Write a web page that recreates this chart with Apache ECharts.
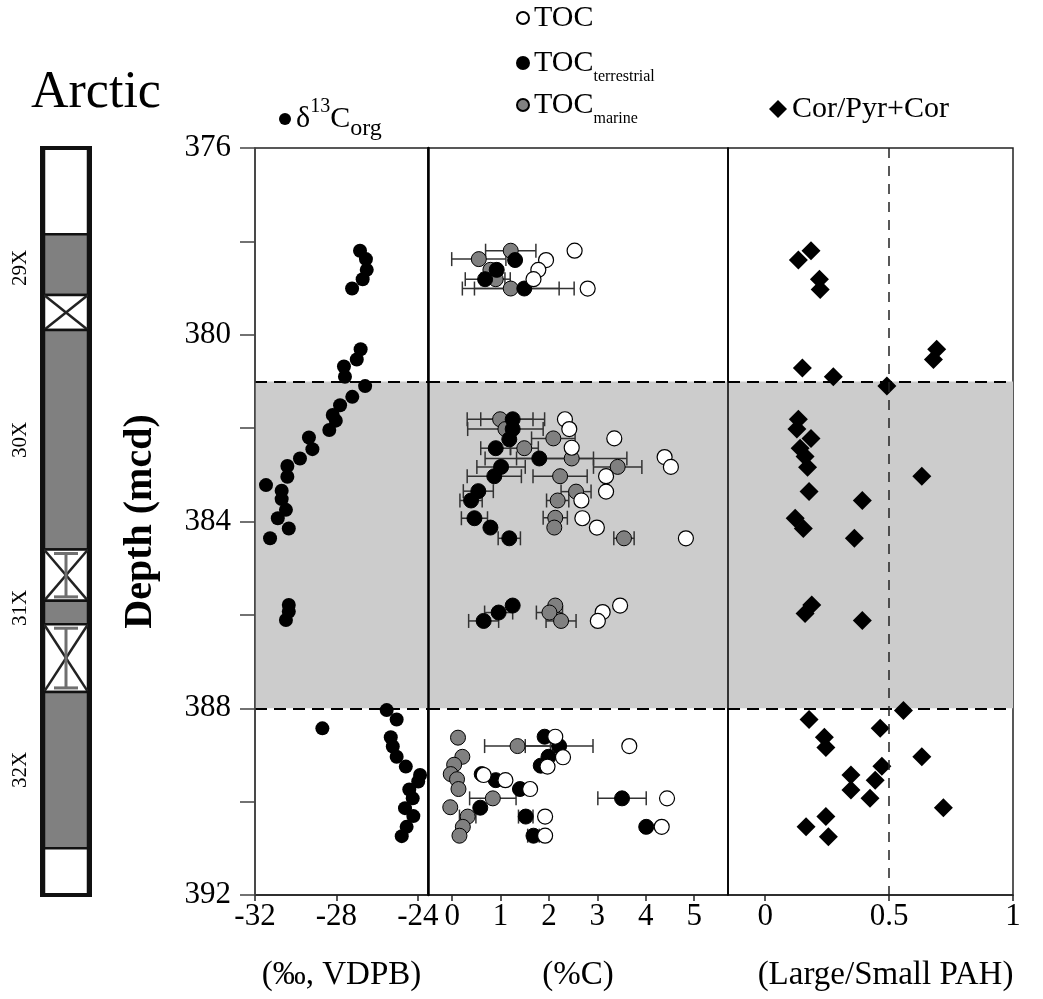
<!DOCTYPE html>
<html><head><meta charset="utf-8">
<script src="https://cdn.jsdelivr.net/npm/echarts@6/dist/echarts.min.js"></script>
<style>html,body{margin:0;padding:0;background:#fff}#c{width:1043px;height:999px}</style>
</head><body><div id="c"></div>
<script>
const FONT = '"Liberation Serif","Times New Roman",serif';

// ---- axes / ticks ----
const depthTicks = [376, 378, 380, 382, 384, 386, 388, 390, 392];
const depthLabels = [376, 380, 384, 388, 392];
const d13cTicks = [-32, -28, -24];
const tocTicks = [0, 1, 2, 3, 4, 5];
const ratioTicks = [0, 0.5, 1];
const shadedInterval = [381, 388];
const ratioThreshold = 0.5;

// ---- δ13Corg (‰ VPDB) ----
const d13cValue = [-26.84,-26.55,-26.51,-26.71,-27.23,-26.81,-27.00,-27.63,-27.58,-26.59,-27.22,-27.82,-28.18,-28.03,-28.35,-29.35,-29.18,-29.79,-30.41,-30.41,-31.46,-30.69,-30.69,-30.48,-30.88,-30.34,-31.26,-30.34,-30.34,-30.48,-25.53,-25.04,-28.69,-25.33,-25.23,-25.04,-24.59,-23.89,-23.98,-24.42,-24.25,-24.63,-24.22,-24.55,-24.79];
const d13cDepth = [378.20,378.38,378.61,378.81,379.01,380.31,380.53,380.68,380.90,381.10,381.33,381.51,381.72,381.84,382.04,382.20,382.45,382.65,382.81,383.04,383.22,383.34,383.52,383.75,383.93,384.15,384.36,385.79,385.93,386.11,388.04,388.24,388.43,388.62,388.82,389.04,389.25,389.43,389.57,389.74,389.93,390.14,390.31,390.54,390.74];

// ---- TOC (%C) ----
const tocValue = [2.53,1.94,1.78,1.68,2.80, 2.33,2.42,3.35,2.47,4.39,4.52,3.18,3.18,2.67,2.69,2.99,4.83, 3.47,3.11,3.01, 2.13,3.66,2.29,1.97,0.65,1.10,1.61,4.44,1.92,4.33,1.92];
const tocDepth = [378.20,378.40,378.61,378.81,379.01, 381.81,382.02,382.22,382.42,382.62,382.83,383.03,383.36,383.55,383.93,384.13,384.36, 385.80,385.94,386.13, 388.61,388.81,389.05,389.25,389.43,389.54,389.73,389.93,390.32,390.54,390.73];

// ---- TOC terrestrial ----
const terrValue = [1.30,0.92,0.68,1.49, 1.25,1.25,1.18,0.90,1.80,1.01,0.87,0.54,0.39,0.46,0.79,1.18, 1.25,0.96,0.65, 1.91,2.21,1.99,1.83,0.61,0.90,1.40,3.51,0.58,1.52,4.01,1.68];
const terrDepth = [378.40,378.61,378.81,379.01, 381.81,382.02,382.24,382.43,382.65,382.83,383.03,383.35,383.55,383.93,384.13,384.36, 385.80,385.95,386.13, 388.61,388.81,389.04,389.23,389.41,389.54,389.73,389.93,390.13,390.32,390.54,390.73];
const terrErr = [0,0,0.41,1.03, 0.66,0,0,0.31,1.12,0.50,0.56,0.31,0.23,0.27,0,0.23, 0,0.29,0.31, 0,0.70,0,0,0,0,0,0.50,0,0.15,0,0.12];

// ---- TOC marine ----
const marValue = [1.21,0.55,0.79,0.90,1.21, 0.99,1.10,2.09,1.49,2.47,3.42,2.23,2.56,2.18,2.13,2.11,3.55, 2.13,2.01,2.25, 0.12,1.35,0.21,0.04,-0.03,0.10,0.13,0.84,-0.04,0.32,0.22,0.15];
const marDepth = [378.20,378.38,378.61,378.81,379.01, 381.81,382.02,382.22,382.43,382.65,382.83,383.03,383.36,383.55,383.92,384.13,384.36, 385.80,385.95,386.13, 388.63,388.81,389.04,389.21,389.41,389.52,389.73,389.93,390.12,390.32,390.54,390.73];
const marErr = [0.52,0.56,0,0.3,1.0, 0.68,0.78,0.45,0.29,1.14,0.50,0.56,0.31,0.23,0.25,0,0.21, 0,0.27,0.31, 0,0.68,0,0,0,0,0,0.48,0,0.17,0,0];

// ---- Cor/(Pyr+Cor) ----
const ratioValue = [0.185,0.134,0.219,0.222,0.692,0.679,0.150,0.275,0.491, 0.134,0.128,0.185,0.141,0.161,0.171,0.632,0.177,0.392,0.121,0.154,0.360, 0.188,0.161,0.392, 0.558,0.177,0.464,0.239,0.245,0.632,0.471,0.346,0.444,0.346,0.423,0.719,0.245,0.165,0.255];
const ratioDepth = [378.20,378.40,378.81,379.03,380.31,380.53,380.71,380.90,381.10, 381.81,382.02,382.22,382.43,382.61,382.84,383.03,383.36,383.55,383.93,384.15,384.36, 385.79,385.97,386.12, 388.05,388.24,388.43,388.62,388.84,389.04,389.24,389.43,389.54,389.75,389.93,390.13,390.32,390.54,390.75];

// ---- core recovery column ----
const columnExtent = [376, 392];
const coreTop =    [376,   377.85, 379.15, 379.9, 384.6,  385.7,  386.2,  387.65, 391.0];
const coreBottom = [377.85,379.15, 379.9,  384.6, 385.7,  386.2,  387.65, 391.0,  392];
const coreKind =   ['empty','core','void','core','voidI','core','voidI','core','empty'];
const coreNames = ['29X', '30X', '31X', '32X'];
const coreNameDepth = [378.57, 382.25, 385.85, 389.32];

const zip = (a, b) => a.map((v, i) => [v, b[i]]);
const zip3 = (a, b, c) => a.map((v, i) => [v, b[i], c[i]]);

const chart = echarts.init(document.getElementById('c'), null, {renderer: 'canvas'});

const gridTop = 148, gridH = 747;
const grids = [
  {left: 255, width: 173, top: gridTop, height: gridH},
  {left: 428, width: 300, top: gridTop, height: gridH},
  {left: 728, width: 285, top: gridTop, height: gridH},
  {left: 44, width: 44, top: gridTop, height: gridH}
].map(g => Object.assign({show: true, borderColor: '#222', borderWidth: 1.5, backgroundColor: 'transparent'}, g));
grids[3].show = false;

const labelStyle = {fontFamily: FONT, fontSize: 31, color: '#000'};

function xAx(idx, min, max, ticks, name, pad) {
  return {
    gridIndex: idx, type: 'value', min, max, position: 'bottom',
    axisLine: {show: true, onZero: false, lineStyle: {color: '#222', width: 1.5}},
    axisTick: {show: true, inside: false, length: 6, customValues: ticks, lineStyle: {color: '#222', width: 1.5}},
    axisLabel: Object.assign({customValues: ticks, margin: 6, formatter: v => String(v)}, labelStyle),
    splitLine: {show: false},
    name, nameLocation: 'middle', nameGap: 64,
    nameTextStyle: Object.assign({padding: pad || 0}, labelStyle, {fontSize: 33})
  };
}

const yBase = {type: 'value', min: columnExtent[0], max: columnExtent[1], inverse: true, splitLine: {show: false}, z: 10};
const yAxes = [
  Object.assign({}, yBase, {
    gridIndex: 0,
    axisLine: {show: true, onZero: false, lineStyle: {color: '#444', width: 1.5}},
    axisTick: {show: true, inside: false, length: 15, customValues: depthTicks, lineStyle: {color: '#444', width: 1.5}},
    axisLabel: Object.assign({customValues: depthLabels, margin: 24}, labelStyle),
    name: 'Depth (mcd)', nameLocation: 'middle', nameGap: 94, nameRotate: 90,
    nameTextStyle: {fontFamily: FONT, fontSize: 40, color: '#000', fontWeight: 'bold'}
  }),
  Object.assign({}, yBase, {gridIndex: 1, axisLine: {show: true, onZero: false, lineStyle: {color: '#000', width: 2.5}}, axisTick: {show: false}, axisLabel: {show: false}}),
  Object.assign({}, yBase, {gridIndex: 2, axisLine: {show: true, onZero: false, lineStyle: {color: '#000', width: 1.5}}, axisTick: {show: false}, axisLabel: {show: false}}),
  Object.assign({}, yBase, {gridIndex: 3, show: false})
];

const xAxes = [
  xAx(0, -32, -23.5, d13cTicks, '(‰, VDPB)'),
  xAx(1, -0.5, 5.7, tocTicks, '(%C)'),
  xAx(2, -0.15, 1, ratioTicks, '(Large/Small PAH)', [0, 0, 0, 30]),
  {gridIndex: 3, type: 'value', min: 0, max: 1, show: false}
];

const shade = {
  silent: true, itemStyle: {color: '#cccccc'},
  data: [[{yAxis: shadedInterval[0]}, {yAxis: shadedInterval[1]}]]
};
const hLines = [{yAxis: shadedInterval[0]}, {yAxis: shadedInterval[1]}];
const mLine = () => ({
  silent: true, symbol: 'none', label: {show: false},
  lineStyle: {type: [12, 7], color: '#000', width: 2},
  data: hLines
});

function errorSeries(name, vals, deps, errs) {
  return {
    name, type: 'custom', xAxisIndex: 1, yAxisIndex: 1, z: 1, silent: true,
    encode: {x: 0, y: 1},
    data: zip3(vals, deps, errs),
    renderItem(params, api) {
      const v = api.value(0), d = api.value(1), e = api.value(2);
      if (!e) return null;
      const a = api.coord([v - e, d]), b = api.coord([v + e, d]);
      const st = {stroke: '#333', lineWidth: 1.5};
      return {type: 'group', children: [
        {type: 'line', shape: {x1: a[0], y1: a[1], x2: b[0], y2: b[1]}, style: st},
        {type: 'line', shape: {x1: a[0], y1: a[1] - 7, x2: a[0], y2: a[1] + 7}, style: st},
        {type: 'line', shape: {x1: b[0], y1: b[1] - 7, x2: b[0], y2: b[1] + 7}, style: st}
      ]};
    }
  };
}

const series = [
  {
    name: 'δ13Corg', type: 'scatter', xAxisIndex: 0, yAxisIndex: 0, symbol: 'circle', symbolSize: 14,
    itemStyle: {color: '#000', opacity: 1}, data: zip(d13cValue, d13cDepth),
    markArea: shade, markLine: mLine()
  },
  errorSeries('errMar', marValue, marDepth, marErr),
  errorSeries('errTerr', terrValue, terrDepth, terrErr),
  {
    name: 'TOCmarine', type: 'scatter', xAxisIndex: 1, yAxisIndex: 1, symbol: 'circle', symbolSize: 15, z: 3,
    itemStyle: {color: '#808080', borderColor: '#000', borderWidth: 1, opacity: 1}, data: zip(marValue, marDepth),
    markArea: shade, markLine: mLine()
  },
  {
    name: 'TOCterrestrial', type: 'scatter', xAxisIndex: 1, yAxisIndex: 1, symbol: 'circle', symbolSize: 15, z: 4,
    itemStyle: {color: '#000', borderColor: '#000', borderWidth: 1, opacity: 1}, data: zip(terrValue, terrDepth)
  },
  {
    name: 'TOC', type: 'scatter', xAxisIndex: 1, yAxisIndex: 1, symbol: 'circle', symbolSize: 15, z: 5,
    itemStyle: {color: '#fff', borderColor: '#000', borderWidth: 1.2, opacity: 1}, data: zip(tocValue, tocDepth)
  },
  {
    name: 'Cor/Pyr+Cor', type: 'scatter', xAxisIndex: 2, yAxisIndex: 2, symbol: 'diamond', symbolSize: 19,
    itemStyle: {color: '#000', opacity: 1}, data: zip(ratioValue, ratioDepth),
    markArea: shade,
    markLine: {
      silent: true, symbol: 'none', label: {show: false},
      data: [
        {yAxis: shadedInterval[0], lineStyle: {type: [12, 7], color: '#000', width: 2}},
        {yAxis: shadedInterval[1], lineStyle: {type: [12, 7], color: '#000', width: 2}},
        {xAxis: ratioThreshold, lineStyle: {type: [10, 8], color: '#222', width: 1.5}}
      ]
    }
  },
  // core recovery column
  {
    name: 'coreFrame', type: 'custom', xAxisIndex: 3, yAxisIndex: 3, silent: true, z: 6,
    encode: {y: [0, 1]},
    data: [columnExtent],
    renderItem(params, api) {
      const p0 = api.coord([0, api.value(0)]), p1 = api.coord([1, api.value(1)]);
      return {type: 'rect', shape: {x: p0[0] - 2, y: p0[1], width: p1[0] - p0[0] + 4, height: p1[1] - p0[1]},
        style: {fill: null, stroke: '#111', lineWidth: 4}};
    }
  },
  {
    name: 'core', type: 'custom', xAxisIndex: 3, yAxisIndex: 3, silent: true, z: 5,
    encode: {y: [0, 1]},
    data: zip(coreTop, coreBottom),
    renderItem(params, api) {
      const kind = coreKind[params.dataIndex];
      const p0 = api.coord([0, api.value(0)]), p1 = api.coord([1, api.value(1)]);
      const x = p0[0], y = p0[1], w = p1[0] - p0[0], h = p1[1] - p0[1];
      const ch = [{type: 'rect', shape: {x, y, width: w, height: h},
        style: {fill: kind === 'core' ? '#808080' : '#fff', stroke: '#111', lineWidth: 2.5}}];
      if (kind === 'void' || kind === 'voidI') {
        const st = {stroke: '#222', lineWidth: 2.5};
        ch.push({type: 'line', shape: {x1: x, y1: y, x2: x + w, y2: y + h}, style: st});
        ch.push({type: 'line', shape: {x1: x + w, y1: y, x2: x, y2: y + h}, style: st});
      }
      if (kind === 'voidI') {
        const gs = {stroke: '#6f6f6f', lineWidth: 3};
        const cx = x + w / 2;
        ch.push({type: 'line', shape: {x1: cx, y1: y + 3, x2: cx, y2: y + h - 3}, style: gs});
        ch.push({type: 'line', shape: {x1: cx - 12, y1: y + 4, x2: cx + 12, y2: y + 4}, style: gs});
        ch.push({type: 'line', shape: {x1: cx - 12, y1: y + h - 4, x2: cx + 12, y2: y + h - 4}, style: gs});
      }
      return {type: 'group', children: ch};
    }
  },
  {
    name: 'coreNames', type: 'custom', xAxisIndex: 3, yAxisIndex: 3, silent: true, z: 6,
    encode: {y: 1},
    data: coreNames.map((n, i) => [0, coreNameDepth[i]]),
    renderItem(params, api) {
      const p = api.coord([0, api.value(1)]);
      return {type: 'text', x: p[0] - 24, y: p[1], rotation: Math.PI / 2,
        style: {text: coreNames[params.dataIndex], fontFamily: FONT, fontSize: 21, fill: '#000',
          align: 'center', verticalAlign: 'middle'}};
    }
  }
];

const rich = {
  m: {fontFamily: FONT, fontSize: 30, color: '#000', lineHeight: 44, verticalAlign: 'middle'},
  sup: {fontFamily: FONT, fontSize: 20, color: '#000', lineHeight: 28, verticalAlign: 'top'},
  sub: {fontFamily: FONT, fontSize: 24, color: '#000', lineHeight: 26, verticalAlign: 'bottom'},
  sub2: {fontFamily: FONT, fontSize: 16, color: '#000', lineHeight: 28, verticalAlign: 'bottom'}
};
const legendFmt = {
  'δ13Corg': '{m|δ}{sup|13}{m|C}{sub|org}',
  'TOC': '{m|TOC}',
  'TOCterrestrial': '{m|TOC}{sub2|terrestrial}',
  'TOCmarine': '{m|TOC}{sub2|marine}',
  'Cor/Pyr+Cor': '{m|Cor/Pyr+Cor}'
};
function leg(name, left, top, icon, size) {
  return {
    data: [{name, icon}], left, top, padding: 0, itemWidth: size, itemHeight: size, itemGap: 0,
    selectedMode: false,
    formatter: n => legendFmt[n],
    textStyle: {fontFamily: FONT, fontSize: 30, color: '#000', rich}
  };
}

chart.setOption({
  animation: false,
  backgroundColor: '#fff',
  title: {text: 'Arctic', left: 26, top: 62, textStyle: {fontFamily: FONT, fontSize: 52, fontWeight: 'normal', color: '#000'}},
  grid: grids,
  xAxis: xAxes,
  yAxis: yAxes,
  legend: [
    leg('δ13Corg', 279, 97, 'circle', 12),
    leg('TOC', 516, 3, 'circle', 12),
    leg('TOCterrestrial', 516, 48, 'circle', 12),
    leg('TOCmarine', 516, 90, 'circle', 12),
    leg('Cor/Pyr+Cor', 769, 94, 'diamond', 18)
  ],
  series
});
</script>
</body></html>
